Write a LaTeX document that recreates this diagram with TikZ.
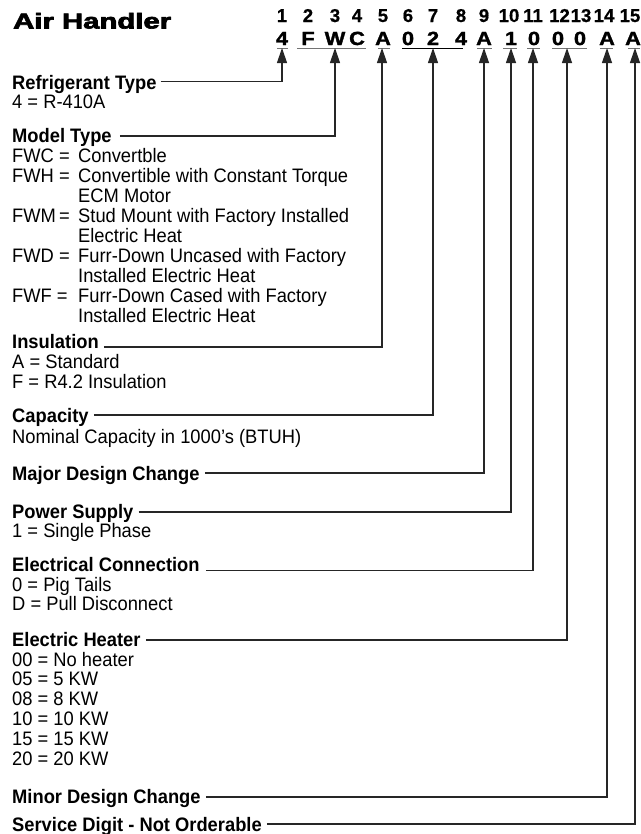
\documentclass[tikz,border=0pt]{standalone}
\usepackage{graphicx}
\usepackage{fontspec}
\setmainfont[FakeStretch=0.94]{Liberation Sans}
\newfontfamily\titlefont[FakeBold=3]{Liberation Sans Bold}
\newfontfamily\digfont[FakeBold=1.5]{Liberation Sans Bold}
\newfontfamily\posfont[FakeBold=0.6]{Liberation Sans Bold}
\usetikzlibrary{arrows.meta}
\begin{document}
\begin{tikzpicture}[x=1bp,y=-1bp,
  txt/.style={anchor=base west,inner sep=0pt,font=\fontsize{19.5bp}{20bp}\selectfont},
  hd/.style={anchor=base west,inner sep=0pt,font=\fontsize{19.5bp}{20bp}\selectfont\bfseries},
  conn/.style={draw=black!85,line width=1.2bp,-{Triangle[length=15bp,width=10bp]}},
  uline/.style={draw=black!55,line width=1bp},
  posnum/.style={anchor=base,inner sep=0pt,font=\fontsize{18.6bp}{20bp}\posfont},
  dig/.style={anchor=base,inner sep=0pt,font=\fontsize{19bp}{20bp}\digfont}]
\useasboundingbox (0,0) rectangle (641,834);

% title
\node[anchor=base west,inner sep=0pt] (title) at (13,28.5) {\resizebox{158bp}{15.6bp}{\titlefont Air Handler}};

% header row 1 (positions)
\foreach \t/\x [count=\i] in {1/282,2/308,3/335,4/357,5/383,6/408,7/433,8/461,9/484,10/509,11/533,12/559.5,13/581,14/604,15/630}
  \node[posnum] (p\i) at (\x,22) {\t};
% header row 2 (sample code)
\foreach \t/\x [count=\i] in {4/282,F/308,W/335,C/357,A/383,0/408,2/433,4/461,A/484,1/511,0/534,0/558,0/580,A/607,A/633}
  \node[dig] (c\i) at (\x,45) {\scalebox{1.15}[1]{\t}};

% underlines
\draw[uline] (277,48) -- (288,48);
\draw[uline] (297,48) -- (366,48);
\draw[uline] (378,48) -- (390,48);
\draw[uline,draw=black] (402,48) -- (463,48);
\draw[uline] (477,48) -- (492,48);
\draw[uline] (503,48) -- (517,48);
\draw[uline] (527,48) -- (540,48);
\draw[uline] (552,48) -- (587,48);
\draw[uline] (600,48) -- (613,48);
\draw[uline] (628,48) -- (640,48);

% arrow tips
\coordinate (t1) at (282,48);
\coordinate (t2) at (335,48);
\coordinate (t3) at (382,48);
\coordinate (t4) at (433,48);
\coordinate (t5) at (484,48);
\coordinate (t6) at (511,48);
\coordinate (t7) at (533,48);
\coordinate (t8) at (567,48);
\coordinate (t9) at (607,48);
\coordinate (t10) at (635,48);

% Refrigerant type
\node[hd] (h1) at (12,89) {Refrigerant Type};
\node[txt] (b1) at (12,108) {4 = R-410A};

% Model type
\node[hd] (h2) at (12,142) {Model Type};
\node[txt] (m1) at (12,162) {FWC =};
\node[txt] (m1d) at (78,162) {Convertble};
\node[txt] (m2) at (12,182) {FWH =};
\node[txt] (m2d) at (78,182) {Convertible with Constant Torque};
\node[txt] (m2e) at (78,202) {ECM Motor};
\node[txt] (m3) at (12,222) {FWM\,=};
\node[txt] (m3d) at (78,222) {Stud Mount with Factory Installed};
\node[txt] (m3e) at (78,242) {Electric Heat};
\node[txt] (m4) at (12,262) {FWD =};
\node[txt] (m4d) at (78,262) {Furr-Down Uncased with Factory};
\node[txt] (m4e) at (78,282) {Installed Electric Heat};
\node[txt] (m5) at (12,302) {FWF =};
\node[txt] (m5d) at (78,302) {Furr-Down Cased with Factory};
\node[txt] (m5e) at (78,322) {Installed Electric Heat};

% Insulation
\node[hd] (h3) at (12,348) {Insulation};
\node[txt] (i1) at (12,368) {A = Standard};
\node[txt] (i2) at (12,388) {F = R4.2 Insulation};

% Capacity
\node[hd] (h4) at (12,422) {Capacity};
\node[txt] (k1) at (12,443) {Nominal Capacity in 1000's (BTUH)};

% Major design change
\node[hd] (h5) at (12,480) {Major Design Change};

% Power supply
\node[hd] (h6) at (12,518) {Power Supply};
\node[txt] (s1) at (12,537) {1 = Single Phase};

% Electrical connection
\node[hd] (h7) at (12,571) {Electrical Connection};
\node[txt] (e1) at (12,591) {0 = Pig Tails};
\node[txt] (e2) at (12,610) {D = Pull Disconnect};

% Electric heater
\node[hd] (h8) at (12,646) {Electric Heater};
\node[txt] (q1) at (12,666) {00 = No heater};
\node[txt] (q2) at (12,685) {05 = 5 KW};
\node[txt] (q3) at (12,705) {08 = 8 KW};
\node[txt] (q4) at (12,725) {10 = 10 KW};
\node[txt] (q5) at (12,745) {15 = 15 KW};
\node[txt] (q6) at (12,765) {20 = 20 KW};

% Minor design change
\node[hd] (h9) at (12,803) {Minor Design Change};

% Service digit
\node[hd] (h10) at (12,831) {Service Digit - Not Orderable};

% connectors
\draw[conn] ([xshift=4bp,yshift=7.5bp]h1.base east) -| (t1);
\draw[conn] ([xshift=8bp,yshift=6bp]h2.base east) -| (t2);
\draw[conn] ([xshift=5bp,yshift=1bp]h3.base east) -| (t3);
\draw[conn] ([xshift=5bp,yshift=7bp]h4.base east) -| (t4);
\draw[conn] ([xshift=5bp,yshift=7bp]h5.base east) -| (t5);
\draw[conn] ([xshift=5bp,yshift=6bp]h6.base east) -| (t6);
\draw[conn] ([xshift=6bp,yshift=0.5bp]h7.base east) -| (t7);
\draw[conn] ([xshift=5bp,yshift=6bp]h8.base east) -| (t8);
\draw[conn] ([xshift=5bp,yshift=6bp]h9.base east) -| (t9);
\draw[conn] ([xshift=5bp,yshift=7bp]h10.base east) -| (t10);
\end{tikzpicture}
\end{document}
